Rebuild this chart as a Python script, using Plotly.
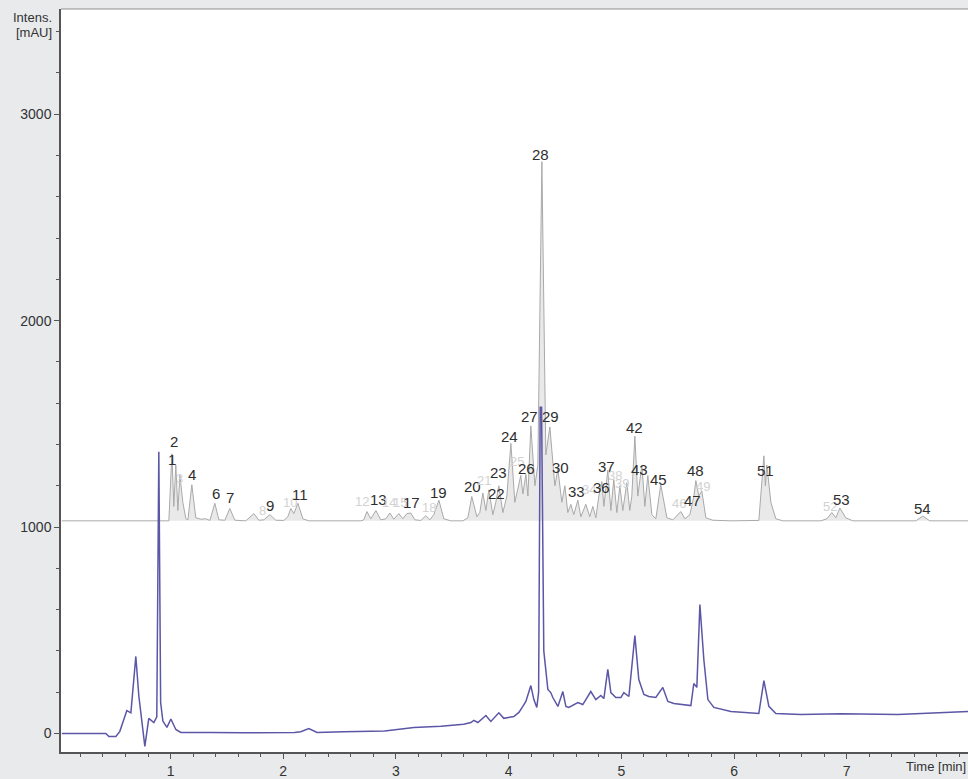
import plotly.graph_objects as go

# ---------------- data ----------------
# UV trace (blue), time in min, intensity in mAU
blue_time = [0.035, 0.426, 0.453, 0.515, 0.55, 0.577, 0.612, 0.648, 0.692, 0.719,
             0.772, 0.807, 0.852, 0.878, 0.896, 0.912, 0.932, 0.968, 1.003, 1.047,
             1.091, 1.358, 1.642, 2.1, 2.156, 2.227, 2.30, 2.538, 2.9, 3.159,
             3.40, 3.6, 3.665, 3.691, 3.727, 3.798, 3.842, 3.913, 3.957, 4.046,
             4.091, 4.126, 4.153, 4.197, 4.224, 4.250, 4.266, 4.280, 4.292, 4.312,
             4.348, 4.374, 4.392, 4.437, 4.481, 4.508, 4.534, 4.614, 4.658, 4.729,
             4.774, 4.818, 4.845, 4.880, 4.907, 4.951, 4.996, 5.022, 5.067, 5.120,
             5.155, 5.200, 5.244, 5.306, 5.368, 5.413, 5.466, 5.617, 5.643, 5.670,
             5.697, 5.732, 5.768, 5.821, 5.972, 6.220, 6.265, 6.309, 6.371, 6.593,
             6.948, 7.453, 7.862, 8.083]
blue_intensity = [0, 0, -15, -15, 10, 58, 111, 100, 373, 180,
                  -63, 73, 53, 80, 1365, 150, 60, 29, 70, 19,
                  5, 5, 3, 5, 8, 24, 5, 8, 12, 29,
                  35, 45, 53, 63, 53, 87, 58, 100, 73, 82,
                  102, 131, 155, 232, 164, 126, 200, 1580, 1580, 400,
                  213, 198, 174, 131, 203, 131, 126, 150, 140, 203,
                  164, 184, 169, 310, 198, 174, 174, 198, 179, 474,
                  261, 189, 179, 174, 223, 155, 145, 135, 242, 223,
                  624, 358, 164, 126, 106, 97, 256, 131, 97, 92,
                  95, 92, 100, 106]

# Offset trace (grey), time in min, intensity in mAU
gray_time = [0.035, 0.9, 0.985, 1.012, 1.029, 1.047, 1.065, 1.083, 1.109, 1.136,
             1.154, 1.189, 1.224, 1.269, 1.313, 1.349, 1.393, 1.429, 1.482, 1.526,
             1.571, 1.668, 1.739, 1.784, 1.828, 1.881, 1.934, 2.005, 2.041, 2.067,
             2.094, 2.130, 2.174, 2.227, 2.689, 2.715, 2.742, 2.777, 2.822, 2.866,
             2.910, 2.946, 2.981, 3.026, 3.061, 3.097, 3.132, 3.168, 3.221, 3.265,
             3.301, 3.336, 3.381, 3.425, 3.487, 3.594, 3.638, 3.673, 3.718, 3.744,
             3.771, 3.798, 3.824, 3.860, 3.886, 3.913, 3.949, 3.984, 4.020, 4.055,
             4.082, 4.108, 4.126, 4.153, 4.171, 4.197, 4.233, 4.259, 4.295, 4.330,
             4.366, 4.410, 4.437, 4.472, 4.499, 4.525, 4.552, 4.578, 4.614, 4.641,
             4.685, 4.720, 4.747, 4.774, 4.800, 4.827, 4.845, 4.880, 4.907, 4.933,
             4.960, 4.987, 5.013, 5.049, 5.075, 5.093, 5.120, 5.146, 5.182, 5.209,
             5.235, 5.271, 5.306, 5.350, 5.404, 5.457, 5.528, 5.564, 5.608, 5.644,
             5.661, 5.688, 5.714, 5.750, 5.812, 5.972, 6.220, 6.247, 6.265, 6.278,
             6.291, 6.327, 6.371, 6.433, 6.770, 6.824, 6.868, 6.903, 6.939, 6.992,
             7.054, 7.613, 7.675, 7.737, 8.083]
gray_intensity = [1030, 1030, 1030, 1355, 1100, 1300, 1080, 1250, 1120, 1040,
                  1035, 1205, 1045, 1038, 1040, 1032, 1115, 1035, 1033, 1090,
                  1033, 1030, 1065, 1033, 1035, 1060, 1033, 1032, 1050, 1090,
                  1065, 1115, 1040, 1030, 1030, 1035, 1075, 1040, 1080, 1035,
                  1040, 1068, 1038, 1065, 1040, 1065, 1068, 1035, 1032, 1055,
                  1035, 1060, 1130, 1040, 1030, 1030, 1045, 1148, 1050, 1070,
                  1165, 1080, 1180, 1060, 1120, 1200, 1070, 1150, 1405, 1120,
                  1180, 1250, 1160, 1255, 1150, 1490, 1200, 1300, 2770, 1350,
                  1485, 1200, 1280, 1120, 1200, 1070, 1110, 1060, 1130, 1050,
                  1110, 1050, 1100, 1045, 1150, 1220, 1100, 1275, 1080, 1230,
                  1070, 1200, 1080, 1215, 1080, 1150, 1440, 1150, 1300, 1100,
                  1250, 1060, 1040, 1205, 1045, 1035, 1075, 1040, 1060, 1150,
                  1225, 1150, 1175, 1045, 1033, 1030, 1032, 1200, 1345, 1200,
                  1300, 1120, 1040, 1030, 1030, 1040, 1070, 1045, 1092, 1045,
                  1030, 1030, 1053, 1030, 1030]

# Peak numbers with label anchor (time, intensity); faint = drawn in light grey
peak_labels = ["1", "2", "3", "4", "6", "7", "8", "9", "10", "11",
               "12", "13", "14", "15", "17", "18", "19", "20", "21", "22",
               "23", "24", "25", "26", "27", "28", "29", "30", "33", "34",
               "36", "37", "38", "39", "42", "43", "45", "46", "47", "48",
               "49", "51", "52", "53", "54"]
peak_label_time = [1.012, 1.029, 1.080, 1.189, 1.402, 1.526, 1.815, 1.885, 2.060, 2.145,
                   2.695, 2.845, 2.935, 3.035, 3.135, 3.295, 3.381, 3.682, 3.785, 3.890,
                   3.913, 4.011, 4.073, 4.162, 4.189, 4.286, 4.374, 4.463, 4.605, 4.712,
                   4.827, 4.871, 4.945, 5.010, 5.120, 5.164, 5.333, 5.510, 5.634, 5.661,
                   5.727, 6.282, 6.855, 6.952, 7.675]
peak_label_intensity = [1326, 1413, 1235, 1253, 1161, 1142, 1079, 1103, 1118, 1156,
                        1122, 1132, 1118, 1118, 1118, 1093, 1166, 1195, 1226, 1161,
                        1263, 1437, 1316, 1282, 1534, 2806, 1534, 1287, 1171, 1180,
                        1190, 1292, 1250, 1212, 1480, 1277, 1229, 1113, 1127, 1272,
                        1195, 1272, 1098, 1132, 1089]
peak_label_faint = [False, False, True, False, False, False, True, False, True, False,
                    True, False, True, True, False, True, False, False, True, False,
                    False, False, True, False, False, False, False, False, False, True,
                    False, False, True, True, False, False, False, True, False, False,
                    True, False, True, False, False]

x_tick_values = [1, 2, 3, 4, 5, 6, 7]
y_tick_values = [0, 1000, 2000, 3000]

# ---------------- figure ----------------
FONT = "Liberation Sans, Arial, sans-serif"
fig = go.Figure()

fig.add_trace(go.Scatter(
    x=gray_time, y=gray_intensity, mode="lines", fill="toself",
    fillcolor="#e9e9e9", line=dict(color="#a9a9a9", width=1),
    hoverinfo="skip", showlegend=False))

fig.add_trace(go.Scatter(
    x=blue_time, y=blue_intensity, mode="lines",
    line=dict(color="#5b56a6", width=1.5),
    hoverinfo="skip", showlegend=False))

for lab, t, v, faint in zip(peak_labels, peak_label_time, peak_label_intensity, peak_label_faint):
    fig.add_annotation(x=t, y=v, text=lab, showarrow=False,
                       xanchor="center", yanchor="middle",
                       font=dict(family=FONT, size=13 if faint else 15,
                                 color="#d2d2d2" if faint else "#2e2e2e"))

fig.add_annotation(xref="paper", yref="paper", x=-0.008, y=0.989, text="Intens.",
                   showarrow=False, xanchor="right", yanchor="middle",
                   font=dict(family=FONT, size=13, color="#333333"))
fig.add_annotation(xref="paper", yref="paper", x=-0.008, y=0.969, text="[mAU]",
                   showarrow=False, xanchor="right", yanchor="middle",
                   font=dict(family=FONT, size=13, color="#333333"))
fig.add_annotation(xref="paper", yref="paper", x=1.0, y=-0.019, text="Time [min]",
                   showarrow=False, xanchor="right", yanchor="middle",
                   font=dict(family=FONT, size=13, color="#333333"))

fig.add_shape(type="line", xref="paper", yref="paper", x0=0, x1=1, y0=1, y1=1,
              line=dict(color="#8f8f8f", width=1))

fig.update_xaxes(range=[0.028, 8.076], tickvals=x_tick_values,
                 ticks="outside", ticklen=5, tickwidth=1, tickcolor="#555555",
                 showline=True, linecolor="#555555", linewidth=1.5,
                 showgrid=False, zeroline=False,
                 tickfont=dict(family=FONT, size=14, color="#333333"),
                 minor=dict(dtick=0.2, tick0=0, ticks="outside", ticklen=3,
                            tickcolor="#555555", showgrid=False))
fig.update_yaxes(range=[-90, 3510], tickvals=y_tick_values,
                 ticks="outside", ticklen=5, tickwidth=1, tickcolor="#555555",
                 showline=True, linecolor="#555555", linewidth=1.5,
                 showgrid=False, zeroline=False,
                 tickfont=dict(family=FONT, size=14, color="#333333"),
                 minor=dict(dtick=200, tick0=0, ticks="outside", ticklen=3,
                            tickcolor="#555555", showgrid=False))

fig.update_layout(width=968, height=779,
                  margin=dict(l=61, r=0, t=9, b=24),
                  paper_bgcolor="#e8eaec", plot_bgcolor="#ffffff")

fig.write_html("out.html",
               config={"displayModeBar": False},
               post_script="document.body.style.margin='0px';"
                           "document.body.style.padding='0px';"
                           "document.documentElement.style.overflow='hidden';")
